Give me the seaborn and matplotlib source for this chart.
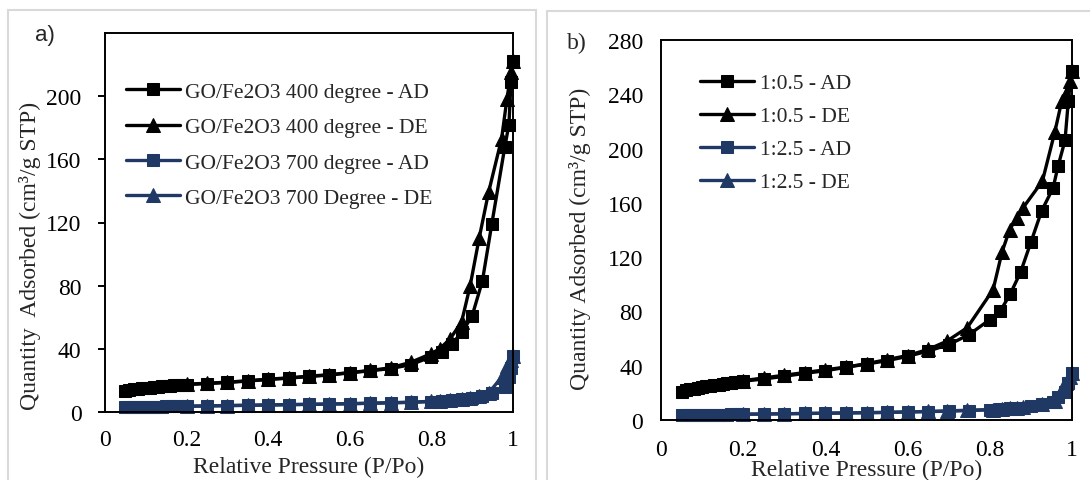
import matplotlib
matplotlib.use("Agg")
import matplotlib.pyplot as plt
import seaborn as sns
from matplotlib.patches import Rectangle

# ---------------- data ----------------
# panel a
a_ad_x = [0.05, 0.06, 0.07, 0.08, 0.09, 0.10, 0.11, 0.12, 0.13, 0.14, 0.15, 0.16, 0.17, 0.18, 0.19, 0.20,
          0.25, 0.30, 0.35, 0.40, 0.45, 0.50, 0.55, 0.60, 0.65, 0.70, 0.75,
          0.80, 0.825, 0.85, 0.875, 0.90, 0.925, 0.948, 0.98, 0.99, 0.995, 0.999]
a_ad_400 = [13.5, 13.9, 14.3, 14.6, 14.9, 15.2, 15.5, 15.7, 16.0, 16.2, 16.4, 16.6, 16.8, 17.0, 17.2, 17.4,
            18.0, 18.7, 19.6, 20.6, 21.4, 22.5, 23.4, 24.8, 26.1, 27.5, 30.0,
            35.0, 38.0, 43.0, 50.5, 61.0, 83.0, 119.0, 168.0, 182.0, 209.0, 222.0]
a_ad_700 = [3.0, 3.05, 3.1, 3.15, 3.2, 3.25, 3.3, 3.35, 3.4, 3.45, 3.5, 3.52, 3.55, 3.57, 3.6, 3.62,
            3.8, 4.0, 4.2, 4.4, 4.6, 4.8, 5.0, 5.2, 5.5, 5.8, 6.1,
            6.6, 7.0, 7.5, 8.2, 9.0, 10.2, 12.0, 16.0, 22.0, 28.0, 35.5]
a_de_x = [0.999, 0.995, 0.985, 0.972, 0.94, 0.917, 0.895, 0.874, 0.845, 0.82, 0.80, 0.75, 0.70,
          0.65, 0.60, 0.55, 0.50, 0.45, 0.40, 0.35, 0.30, 0.25, 0.20]
a_de_400 = [222.0, 215.0, 198.0, 173.0, 139.0, 110.0, 80.0, 57.0, 46.0, 40.0, 37.0, 31.5, 28.0,
            26.3, 25.0, 23.6, 22.7, 21.6, 20.8, 19.8, 18.9, 18.2, 17.6]
a_de_700 = [35.5, 33.0, 29.0, 22.0, 12.0, 10.0, 9.0, 8.3, 7.6, 7.1, 6.8, 6.2, 5.9,
            5.6, 5.3, 5.1, 4.9, 4.7, 4.5, 4.3, 4.1, 3.9, 3.7]

# panel b
b_ad_x = a_ad_x[:27] + [0.80, 0.825, 0.85, 0.875, 0.90, 0.926, 0.954, 0.966, 0.983, 0.991, 0.999]
b_ad_05 = [21.0, 21.8, 22.5, 23.1, 23.7, 24.2, 24.7, 25.2, 25.7, 26.1, 26.5, 27.0, 27.4, 27.8, 28.2, 28.6,
           30.2, 32.2, 34.4, 36.3, 38.8, 41.2, 43.7, 46.9, 50.8, 55.5, 63.0,
           74.0, 80.0, 93.0, 109.0, 131.0, 154.0, 171.0, 187.0, 206.0, 235.0, 257.0]
b_ad_25 = [3.5, 3.55, 3.6, 3.65, 3.7, 3.75, 3.8, 3.85, 3.9, 3.95, 4.0, 4.05, 4.1, 4.15, 4.2, 4.25,
           4.4, 4.6, 4.8, 5.0, 5.2, 5.4, 5.6, 5.9, 6.2, 6.5, 7.0,
           7.5, 8.0, 8.5, 9.2, 10.0, 11.5, 13.0, 17.0, 21.0, 27.0, 35.0]
b_de_x = [0.999, 0.995, 0.985, 0.975, 0.958, 0.928, 0.88, 0.865, 0.848, 0.83, 0.808, 0.745, 0.695,
          0.65, 0.60, 0.55, 0.50, 0.45, 0.40, 0.35, 0.30, 0.25, 0.20]
b_de_05 = [257.0, 250.0, 240.0, 235.0, 212.0, 176.0, 156.0, 149.0, 140.0, 124.0, 96.0, 68.0, 58.0,
           52.0, 47.5, 44.5, 41.5, 39.0, 37.0, 35.0, 33.0, 31.0, 29.0]
b_de_25 = [35.0, 32.0, 27.0, 23.0, 14.0, 11.5, 9.5, 9.0, 8.5, 8.0, 7.7, 7.2, 6.7,
           6.3, 6.0, 5.6, 5.4, 5.2, 5.0, 4.8, 4.6, 4.4, 4.3]

a_labels = ["GO/Fe2O3 400 degree - AD", "GO/Fe2O3 400 degree - DE",
            "GO/Fe2O3 700 degree - AD", "GO/Fe2O3 700 Degree - DE"]
b_labels = ["1:0.5 - AD", "1:0.5 - DE", "1:2.5 - AD", "1:2.5 - DE"]

x_ticks = [0, 0.2, 0.4, 0.6, 0.8, 1.0]
x_ticklabels = ["0", "0.2", "0.4", "0.6", "0.8", "1"]
a_yticks = [0, 40, 80, 120, 160, 200]
b_yticks = [0, 40, 80, 120, 160, 200, 240, 280]

# ---------------- style ----------------
sns.set_theme(style="white")
plt.rcParams["font.family"] = ["Liberation Serif", "DejaVu Serif"]

BLACK = "#000000"
NAVY = "#1f3864"

W, H = 1090, 481
fig = plt.figure(figsize=(W / 100, H / 100), dpi=100)

# light grey frames of the two panels
fig.patches.append(Rectangle((8 / W, -0.05), (536 - 8) / W, 1.05 - 11 / H, transform=fig.transFigure,
                             fill=False, edgecolor="#d9d9d9", lw=1.5, zorder=0))
fig.patches.append(Rectangle((547 / W, -0.05), (1100 - 547) / W, 1.05 - 12 / H, transform=fig.transFigure,
                             fill=False, edgecolor="#d9d9d9", lw=1.5, zorder=0))

axa = fig.add_axes([105 / W, (H - 413) / H, 408 / W, 379 / H])
axb = fig.add_axes([661 / W, (H - 421) / H, 411 / W, 380 / H])

LW = 2.4
MS = 9.3


def draw(ax, x, y, color, marker, label):
    sns.lineplot(x=x, y=y, ax=ax, color=color, marker=marker, markersize=MS if marker == "s" else MS + 1,
                 markeredgecolor=color, markerfacecolor=color, linewidth=LW, sort=False,
                 estimator=None, label=label, clip_on=False)


draw(axa, a_ad_x, a_ad_400, BLACK, "s", a_labels[0])
draw(axa, a_de_x, a_de_400, BLACK, "^", a_labels[1])
draw(axa, a_ad_x, a_ad_700, NAVY, "s", a_labels[2])
draw(axa, a_de_x, a_de_700, NAVY, "^", a_labels[3])

draw(axb, b_ad_x, b_ad_05, BLACK, "s", b_labels[0])
draw(axb, b_de_x, b_de_05, BLACK, "^", b_labels[1])
draw(axb, b_ad_x, b_ad_25, NAVY, "s", b_labels[2])
draw(axb, b_de_x, b_de_25, NAVY, "^", b_labels[3])

for ax, ymax, yt in ((axa, 240, a_yticks), (axb, 280, b_yticks)):
    ax.set_xlim(0, 1)
    ax.set_ylim(0, ymax)
    ax.set_xticks(x_ticks)
    ax.set_xticklabels(x_ticklabels)
    ax.set_yticks(yt)
    ax.set_yticklabels([str(v) for v in yt])
    for s in ax.spines.values():
        s.set_visible(True)
        s.set_color("black")
        s.set_linewidth(1.4)
    ax.set_xlabel("Relative Pressure (P/Po)", fontsize=17, va="top")
    ax.tick_params(axis="both", labelsize=17, colors="black")

axa.tick_params(axis="y", left=True, length=5, width=1.4, direction="out", pad=12)
axa.tick_params(axis="x", bottom=False, length=0, pad=12)
axb.tick_params(axis="y", left=False, length=0, pad=13)
axb.tick_params(axis="x", bottom=False, length=0, pad=14)

axa.set_ylabel("Quantity  Adsorbed (cm³/g STP)", fontsize=17)
axb.set_ylabel("Quantity Adsorbed (cm³/g STP)", fontsize=17)
axa.yaxis.set_label_coords((41 - 105) / 408, (413 - 256) / 379)
axb.yaxis.set_label_coords((591 - 661) / 411, (421 - 239) / 380)
axa.xaxis.set_label_coords(0.5, -(457 - 413) / 379)
axb.xaxis.set_label_coords(0.5, -(460 - 421) / 380)

for ax, anchor, spacing in ((axa, (0.03, 0.894), 0.71), (axb, (0.075, 0.935), 0.6)):
    ax.legend(loc="upper left", bbox_to_anchor=anchor, frameon=False, fontsize=15.5,
              handlelength=2.5, handletextpad=0.25, labelspacing=spacing, borderaxespad=0.0)

fig.text(45 / W, 1 - 35 / H, "a)", fontsize=16, family=["Liberation Sans", "DejaVu Sans"],
         ha="center", va="center")
fig.text(577 / W, 1 - 43 / H, "b)", fontsize=17, ha="center", va="center")

fig.savefig("out.png", dpi=100)
